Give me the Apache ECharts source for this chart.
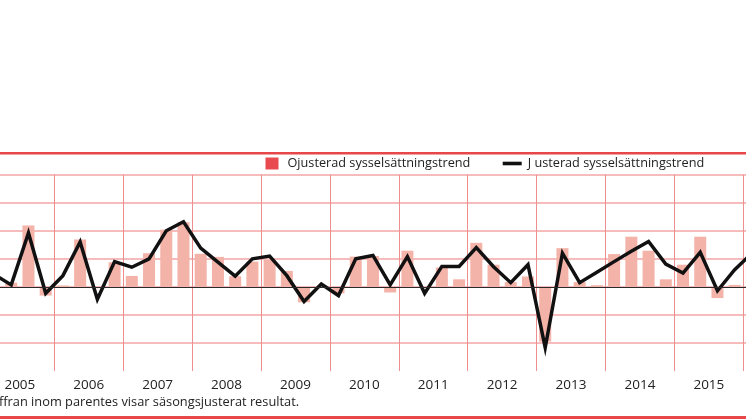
<!DOCTYPE html>
<html>
<head>
<meta charset="utf-8">
<script src="https://cdn.jsdelivr.net/npm/echarts@6/dist/echarts.min.js"></script>
<style>
html,body{margin:0;padding:0;background:#fff;}
#chart{width:746px;height:419px;}
</style>
</head>
<body>
<div id="chart"></div>
<script>
// Years shown on the axis (2016 lies beyond the visible right edge)
const years = ['2005','2006','2007','2008','2009','2010','2011','2012','2013','2014','2015','2016'];
// Quarter categories
const quarters = [];
years.forEach(y => { for (let q = 1; q <= 4; q++) quarters.push(y + 'K' + q); });

const seriesNames = ['Ojusterad sysselsättningstrend', 'J usterad sysselsättningstrend'];

// Unadjusted employment trend (bars), per quarter 2005K1 .. 2016K1
const ojusterad = [
  0.6, 0.15, 2.19, -0.31,
  0.05, 1.69, -0.05, 0.88,
  0.39, 1.2, 2.04, 2.3,
  1.18, 1.07, 0.38, 0.9,
  0.96, 0.57, -0.55, 0.0,
  -0.23, 1.08, 1.1, -0.2,
  1.29, 0.0, 0.69, 0.27,
  1.57, 0.79, 0.17, 0.37,
  -1.95, 1.38, 0.17, 0.06,
  1.17, 1.79, 1.29, 0.27,
  0.79, 1.79, -0.4, 0.07,
  1.26, null, null, null
];

// Adjusted employment trend (line)
const justerad = [
  0.45, 0.07, 1.92, -0.23,
  0.4, 1.6, -0.44, 0.9,
  0.7, 1.0, 2.0, 2.32,
  1.38, 0.88, 0.38, 1.0,
  1.1, 0.4, -0.52, 0.1,
  -0.31, 1.0, 1.12, 0.07,
  1.08, -0.23, 0.73, 0.73,
  1.4, 0.72, 0.15, 0.79,
  -2.17, 1.2, 0.15, 0.52,
  0.9, 1.27, 1.62, 0.81,
  0.49, 1.23, -0.14, 0.61,
  1.2, null, null, null
];

const footnote = 'ffran inom parentes visar säsongsjusterat resultat.';

const FONT = 'Open Sans';
const gridPink = '#f6bcbc';
const chart = echarts.init(document.getElementById('chart'), null, {renderer: 'canvas'});
chart.setOption({
  animation: false,
  backgroundColor: '#ffffff',
  grid: {left: -14.6, top: 174.7, width: 826.8, height: 196.3, containLabel: false, outerBoundsMode: 'none'},
  legend: [
    {
      data: [{name: seriesNames[0], icon: 'rect', itemStyle: {color: '#e84a4f'}}],
      left: 265.5, top: 157, padding: 0, itemWidth: 13, itemHeight: 12,
      textStyle: {fontFamily: FONT, fontSize: 12.7, color: '#222', padding: [0, 0, 0, 4]}
    },
    {
      data: [{name: seriesNames[1], icon: 'path://M0,0L19,0L19,3.6L0,3.6Z', itemStyle: {color: '#111'}}],
      left: 502.7, top: 157, padding: 0, itemWidth: 19, itemHeight: 12, symbolKeepAspect: true,
      textStyle: {fontFamily: FONT, fontSize: 12.7, color: '#222', padding: [0, 0, 0, 1]}
    }
  ],
  xAxis: [
    {type: 'category', data: quarters, boundaryGap: true, show: false, gridIndex: 0},
    {
      type: 'category', data: years, boundaryGap: true, position: 'bottom', gridIndex: 0,
      axisLine: {show: false}, axisTick: {show: false},
      axisLabel: {fontFamily: FONT, fontSize: 13.5, color: '#222', margin: 7, interval: 0},
      splitLine: {show: true, interval: 0, lineStyle: {color: '#ef8e8e', width: 1}}
    }
  ],
  yAxis: {
    type: 'value', min: -3, max: 4, interval: 1,
    axisLine: {show: false}, axisTick: {show: false}, axisLabel: {show: false},
    splitLine: {show: true, lineStyle: {color: ['rgba(0,0,0,0)', gridPink, gridPink, gridPink, gridPink, gridPink, gridPink, gridPink], width: 2}}
  },
  series: [
    {
      name: seriesNames[0], type: 'bar', xAxisIndex: 0, data: ojusterad, barWidth: 12,
      itemStyle: {color: '#f4b3a9'},
      markLine: {
        silent: true, symbol: 'none', label: {show: false},
        lineStyle: {color: '#2a2a2a', width: 1.2, type: 'solid'},
        data: [{yAxis: 0}]
      }
    },
    {
      name: seriesNames[1], type: 'line', xAxisIndex: 0, data: justerad,
      symbol: 'none', lineStyle: {color: '#111', width: 3.5, join: 'miter'},
      itemStyle: {color: '#111'}
    }
  ],
  graphic: [
    {type: 'line', shape: {x1: 0, y1: 153.2, x2: 746, y2: 153.2}, style: {stroke: '#e8474a', lineWidth: 2.5}},
    {type: 'line', shape: {x1: 0, y1: 417.5, x2: 746, y2: 417.5}, style: {stroke: '#e8474a', lineWidth: 3}},
    {type: 'text', left: -1, top: 396, style: {text: footnote, fontFamily: FONT, fontSize: 12.8, fill: '#222'}}
  ]
});
</script>
</body>
</html>
